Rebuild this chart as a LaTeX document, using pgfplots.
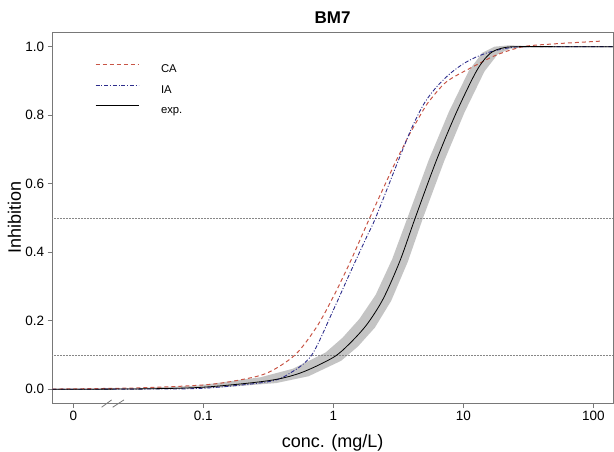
\documentclass[border=0pt]{standalone}
\usepackage{pgfplots}
\pgfplotsset{compat=1.18}
\usepackage{fontspec}
\setmainfont{Liberation Sans}
\definecolor{cared}{RGB}{200,85,70}
\definecolor{iablue}{RGB}{45,45,140}
\definecolor{axgray}{RGB}{120,120,120}
\definecolor{dotgray}{RGB}{135,135,135}
\definecolor{bandgray}{RGB}{196,196,196}
\begin{document}
\begin{tikzpicture}
\begin{axis}[
  scale only axis, width=560.7bp, height=371bp,
  xmin=-2.1615, xmax=2.1515, ymin=-0.041, ymax=1.042,
  axis line style={axgray, line width=0.8bp},
  tick style={axgray, line width=0.8bp},
  tick align=outside, major tick length=4.7bp,
  xtick={-2,-1,0,1,2}, xticklabels={0,0.1,1,10,100},
  ytick={0,0.2,0.4,0.6,0.8,1.0},
  yticklabel style={/pgf/number format/.cd, fixed, fixed zerofill, precision=1},
  /pgf/number format/assume math mode=true,
  ticklabel style={font=\fontsize{13.5bp}{16bp}\selectfont},
  xtick pos=bottom, ytick pos=left,
  title={BM7},
  title style={font=\fontsize{17bp}{20bp}\selectfont\bfseries, at={(axis description cs:0.5,1.0073)}, anchor=base},
  xlabel={conc. (mg/L)},
  xlabel style={font=\fontsize{18bp}{21bp}\selectfont, at={(axis description cs:0.5,-0.1178)}, anchor=base},
  ylabel={Inhibition},
  ylabel style={font=\fontsize{18bp}{21bp}\selectfont, at={(axis description cs:-0.0562,0.5)}, anchor=base},
  clip=false,
  legend style={draw=none, fill=none, at={(axis description cs:0.0762,0.914)}, anchor=north west,
    inner sep=0pt, outer sep=0pt, row sep=11.9bp, font=\fontsize{11.3bp}{13bp}\selectfont,
    nodes={inner sep=0pt, text height=8.1bp, text depth=0bp},
    /tikz/every odd column/.append style={column sep=22bp}},
  legend cell align=left,
  legend image code/.code={\draw[#1] (0bp,4bp) -- (43bp,4bp);},
]
% confidence band of the experimental curve
\addplot [fill=bandgray, draw=none, forget plot] coordinates {
(-2.16,0.002) (-1.56,0.003) (-1.06,0.010) (-0.56,0.035) (-0.31,0.060) (-0.06,0.107)
(0.07,0.150) (0.20,0.205) (0.325,0.275) (0.453,0.380) (0.57,0.500) (0.735,0.670)
(0.889,0.810) (1.043,0.930) (1.145,0.982) (1.24,1.000) (1.35,1.004) (1.5,1.002) (2.15,1.001)
(2.15,0.998) (1.47,0.998) (1.36,0.994) (1.265,0.978) (1.163,0.928) (1.009,0.808)
(0.855,0.668) (0.69,0.500) (0.573,0.372) (0.445,0.258) (0.32,0.180) (0.19,0.125)
(0.06,0.083) (-0.19,0.038) (-0.44,0.018) (-0.94,0.003) (-1.44,0.000) (-2.16,-0.002)
} -- cycle;
% reference lines
\addplot [dotgray, line width=0.45bp, dash pattern=on 0.5bp off 1bp, forget plot] coordinates {(-2.1615,0.5) (2.1515,0.5)};
\addplot [dotgray, line width=0.45bp, dash pattern=on 0.5bp off 1bp, forget plot] coordinates {(-2.1615,0.1) (2.1515,0.1)};
% CA
\addplot [cared, line width=1bp, dash pattern=on 4bp off 3bp, smooth, tension=0.5] coordinates {
(-2.16,0.0005) (-1.5,0.004) (-1.0,0.0125) (-0.75,0.025) (-0.512,0.047) (-0.295,0.100)
(-0.128,0.182) (0.0,0.270) (0.128,0.370) (0.28,0.500) (0.462,0.650) (0.538,0.708)
(0.59,0.747) (0.692,0.815) (0.744,0.844) (0.872,0.898) (1.077,0.942) (1.257,0.976)
(1.46,1.000) (1.69,1.008) (2.0,1.015) (2.05,1.016)
};
\addlegendentry{CA}
% IA
\addplot [iablue, line width=0.9bp, dash pattern=on 4bp off 1.8bp on 1bp off 1.8bp, smooth, tension=0.5] coordinates {
(-2.16,0.0) (-1.5,0.0005) (-1.0,0.003) (-0.5,0.022) (-0.333,0.047) (-0.166,0.100)
(0.0,0.231) (0.128,0.339) (0.257,0.445) (0.325,0.500) (0.487,0.655) (0.6,0.760)
(0.7,0.835) (0.8,0.885) (0.9,0.922) (1.0,0.950) (1.1,0.970) (1.2,0.984) (1.3,0.993)
(1.436,1.000) (1.8,1.000) (2.1515,1.000)
};
\addlegendentry{IA}
% experimental
\addplot [black, line width=0.8bp, smooth, tension=0.5] coordinates {
(-2.16,0.0) (-1.5,0.001) (-1.0,0.006) (-0.5,0.025) (-0.25,0.048) (0.0,0.093)
(0.13,0.135) (0.26,0.190) (0.385,0.265) (0.513,0.375) (0.63,0.500) (0.795,0.670)
(0.949,0.810) (1.103,0.930) (1.205,0.980) (1.3,0.996) (1.41,1.000) (1.8,1.000) (2.1515,1.000)
};
\addlegendentry{exp.}
% axis break marks
\draw[axgray, line width=0.8bp] (axis cs:-1.782,-0.0525) -- (axis cs:-1.705,-0.031);
\draw[axgray, line width=0.8bp] (axis cs:-1.697,-0.0525) -- (axis cs:-1.610,-0.031);
\end{axis}
\pgfresetboundingbox
\path (current axis.south west) ++(-52.3bp,-48.7bp) rectangle ++(614bp,452bp);
\end{tikzpicture}
\end{document}
